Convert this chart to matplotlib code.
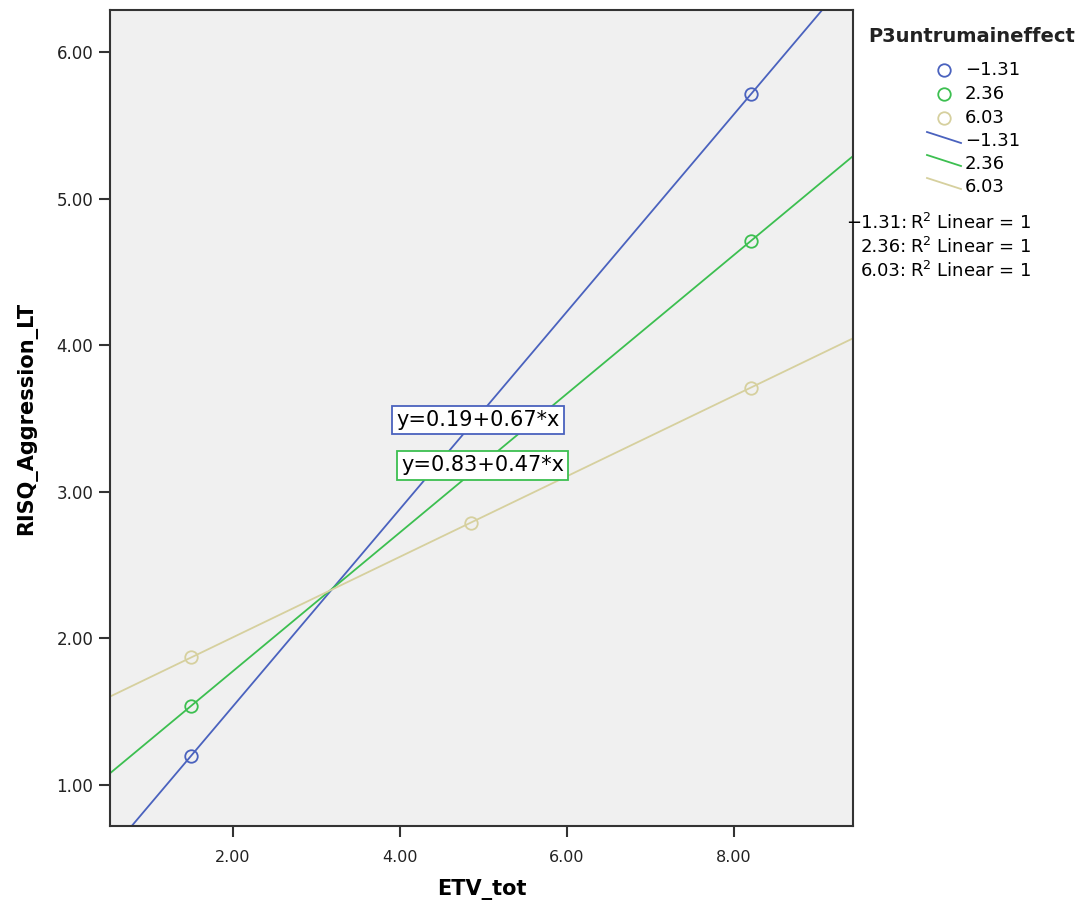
#!/usr/bin/env python3
"""Grouped scatter + per-group linear fit (SPSS style), saved to out.png."""

import numpy as np
import matplotlib
matplotlib.use('Agg')
import matplotlib.pyplot as plt
from matplotlib.lines import Line2D

# ------------------------------------------------------------------ #
# Data                                                                 #
# ------------------------------------------------------------------ #

GROUPS = ['\u22121.31', '2.36', '6.03']
COLORS = ['#4A62BE', '#3CBF50', '#D6D09E']

blue_x = [1.5, 8.2]
blue_y = [1.20, 5.71]
green_x = [1.5, 8.2]
green_y = [1.54, 4.71]
tan_x = [1.5, 4.85, 8.2]
tan_y = [1.87, 2.79, 3.71]

series_x = [blue_x, green_x, tan_x]
series_y = [blue_y, green_y, tan_y]

EQ_LABELS = ['y=0.19+0.67*x', 'y=0.83+0.47*x']
EQ_POS = [(4.93, 3.49), (4.99, 3.18)]

XLIM = (0.527, 9.425)
YLIM = (0.72, 6.286)
XTICKS = [2, 4, 6, 8]
YTICKS = [1, 2, 3, 4, 5, 6]

# ------------------------------------------------------------------ #
# Figure                                                               #
# ------------------------------------------------------------------ #

W, H = 1084, 909
fig = plt.figure(figsize=(W / 100, H / 100), dpi=100)
ax = fig.add_axes([110 / W, 1 - 826 / H, (853 - 110) / W, (826 - 10) / H])
ax.set_facecolor('#F0F0F0')

xs = np.array(XLIM)
for x, y, c in zip(series_x, series_y, COLORS):
    slope, icpt = np.polyfit(x, y, 1)
    ax.plot(xs, icpt + slope * xs, color=c, lw=1.3, zorder=2)
    ax.plot(x, y, 'o', ms=9, mfc='none', mec=c, mew=1.3, zorder=3)

for (ex, ey), lab, c in zip(EQ_POS, EQ_LABELS, COLORS):
    ax.text(ex, ey, lab, ha='center', va='center', fontsize=15, zorder=5,
            bbox=dict(boxstyle='square,pad=0.2', fc='white', ec=c, lw=1.3))

ax.set_xlim(*XLIM)
ax.set_ylim(*YLIM)
ax.set_xticks(XTICKS)
ax.set_yticks(YTICKS)
ax.set_xticklabels([f'{v:.2f}' for v in XTICKS], fontsize=11.5)
ax.set_yticklabels([f'{v:.2f}' for v in YTICKS], fontsize=12)
ax.tick_params(axis='both', length=8, width=1.5, color='#333333',
               labelcolor='#222222')
ax.tick_params(axis='x', pad=9)
ax.tick_params(axis='y', pad=4)
for s in ax.spines.values():
    s.set_color('#333333')
    s.set_linewidth(1.5)

ax.set_xlabel('ETV_tot', fontsize=15, fontweight='bold', labelpad=10)
ax.set_ylabel('RISQ_Aggression_LT', fontsize=15, fontweight='bold',
              labelpad=14)

# ---- Legend, drawn in pixel space on an overlay ----
lg = fig.add_axes([0, 0, 1, 1], zorder=10)
lg.set_xlim(0, W)
lg.set_ylim(H, 0)
lg.axis('off')
lg.patch.set_alpha(0)

lg.text(972, 37, 'P3untrumaineffect', ha='center', va='center',
        fontsize=14, fontweight='bold', color='#222222')
for k, (g, c) in enumerate(zip(GROUPS, COLORS)):
    yy = 70 + 24 * k
    lg.plot([944], [yy], 'o', ms=9, mfc='none', mec=c, mew=1.3)
    lg.text(965, yy, g, ha='left', va='center', fontsize=13)
for k, (g, c) in enumerate(zip(GROUPS, COLORS)):
    yy = 141 + 23 * k
    lg.add_line(Line2D([927, 961], [yy - 9, yy + 2], color=c, lw=1.3))
    lg.text(965, yy, g, ha='left', va='center', fontsize=13)
for k, g in enumerate(GROUPS):
    yy = 223 + 24 * k
    lg.text(907, yy, g + ':', ha='right', va='center', fontsize=13)
    lg.text(910, yy, r'R$^2$ Linear = 1', ha='left', va='center',
            fontsize=13)

fig.savefig('out.png', dpi=100, facecolor='white')
